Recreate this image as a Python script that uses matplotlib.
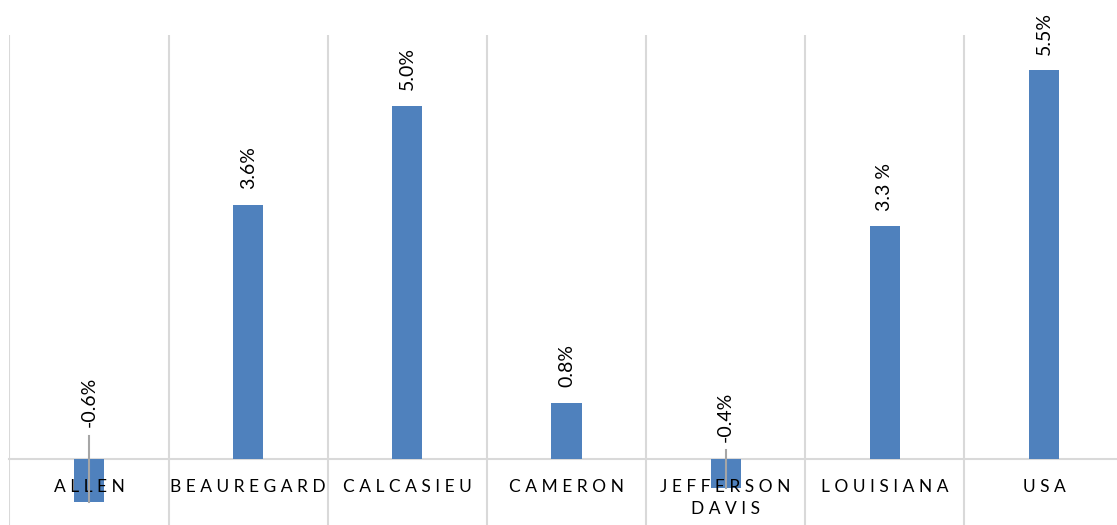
import numpy as np
import matplotlib
matplotlib.use("Agg")
import matplotlib.pyplot as plt

plt.rcParams['font.family'] = ['Lato', 'DejaVu Sans']

# datos
categorias = ["A L L E N", "B E A U R E G A R D", "C A L C A S I E U", "C A M E R O N",
              "J E F F E R S O N\nD A V I S", "L O U I S I A N A", "U S A"]
valores = [-0.6, 3.6, 5.0, 0.8, -0.4, 3.3, 5.5]
etiquetas = ["-0.6%", "3.6%", "5.0%", "0.8%", "-0.4%", "3.3 %", "5.5%"]

azul = '#4f81bd'
gris = '#d9d9d9'

fig = plt.figure(figsize=(11.17, 5.25), dpi=100)
ax = fig.add_axes([9.4 / 1117, -5 / 525, 1114.2 / 1117, 495 / 525])

x = np.arange(len(valores))
ax.bar(x, valores, width=0.19, color=azul, zorder=2)

ax.set_xlim(-0.5, 6.5)
ax.set_ylim(-1, 6)

# etiquetas de valor
for i, (v, t) in enumerate(zip(valores, etiquetas)):
    if v >= 0:
        ax.annotate(t, (i, v), xytext=(0, 11), textcoords='offset points',
                    rotation=90, ha='center', va='bottom', fontsize=14)
    else:
        y_lab = -v - 0.15
        ax.text(i, y_lab, t, rotation=90, ha='center', va='bottom', fontsize=14)
        # linea guia hasta la barra
        ax.plot([i, i], [y_lab - 0.12, v], color='#a6a6a6', lw=1.5, zorder=3)

# ejes
for s in ['top', 'right', 'left']:
    ax.spines[s].set_visible(False)
ax.spines['bottom'].set_position(('data', 0))
ax.spines['bottom'].set_color(gris)
ax.spines['bottom'].set_linewidth(1.5)
ax.spines['bottom'].set_zorder(1)

ax.set_xticks(x)
ax.set_xticklabels(categorias, fontsize=12.5, linespacing=1.45)
ax.tick_params(axis='x', which='major', length=0, pad=14)
ax.set_xticks(np.arange(-0.5, 7, 1), minor=True)
ax.tick_params(axis='x', which='minor', length=0)
ax.grid(which='minor', axis='x', color=gris, lw=1.5)
ax.set_axisbelow(False)  # etiquetas del eje por encima de las barras
ax.set_yticks([])

fig.savefig('out.png', dpi=100)
